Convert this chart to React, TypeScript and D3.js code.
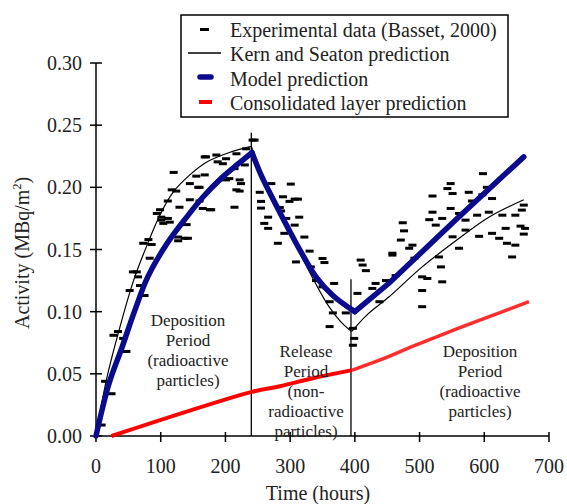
import React from "react";
import * as d3 from "d3";

// ---- Data ----
const expTime = [
  8.7, 14, 24, 27, 34, 42, 47, 52, 57, 65, 68, 63, 73, 75, 81, 83, 86, 94, 99, 101, 101, 104, 111, 111, 114, 117, 120, 124, 127, 127, 129, 137, 140, 142, 145, 145, 155, 158, 160, 160, 165, 168, 168, 170, 176, 178, 186, 188, 196, 201, 201, 206, 214, 214, 217, 217, 222, 222, 224, 230, 232, 242,
  245, 253, 255, 255, 260, 266, 266, 271, 281, 284, 286, 289, 291, 294, 299, 301, 307, 307, 309, 312, 314, 322, 330, 332, 340, 350, 350, 353, 361, 361, 366, 368, 386, 397, 399, 397,
  404, 409, 412, 417, 427, 432, 438, 448, 458, 458, 463, 471, 474, 476, 484, 489, 492, 504, 504, 504, 512, 515, 520, 520, 525, 530, 533, 535, 535, 543, 548, 548, 551, 551, 561, 561, 571, 571, 576, 581, 589, 592, 597, 598, 604, 607, 612, 612, 623, 628, 633, 635, 643, 648, 648, 656, 658, 661, 661, 663,
];
const expActivity = [
  0.0088, 0.044, 0.034, 0.081, 0.084, 0.0785, 0.068, 0.117, 0.132, 0.128, 0.121, 0.132, 0.155, 0.113, 0.158, 0.143, 0.154, 0.179, 0.182, 0.176, 0.1736, 0.171, 0.189, 0.175, 0.172, 0.198, 0.212, 0.197, 0.16, 0.157, 0.184, 0.159, 0.17, 0.159, 0.203, 0.19, 0.209, 0.2, 0.189, 0.2, 0.183, 0.21, 0.2245, 0.2245, 0.182, 0.182, 0.226, 0.2205, 0.219, 0.223, 0.206, 0.207, 0.184, 0.215, 0.198, 0.227, 0.206, 0.197, 0.203, 0.218, 0.231, 0.238,
  0.238, 0.196, 0.1887, 0.1833, 0.171, 0.176, 0.167, 0.203, 0.155, 0.1838, 0.181, 0.1924, 0.163, 0.175, 0.1887, 0.2026, 0.1696, 0.1905, 0.14, 0.1905, 0.176, 0.16, 0.1487, 0.136, 0.125, 0.1428, 0.12, 0.1395, 0.108, 0.088, 0.099, 0.1227, 0.099, 0.0866, 0.0785, 0.073,
  0.1147, 0.1415, 0.1375, 0.133, 0.1187, 0.1227, 0.108, 0.125, 0.147, 0.1455, 0.129, 0.1576, 0.1715, 0.165, 0.151, 0.1535, 0.143, 0.128, 0.117, 0.104, 0.1267, 0.174, 0.193, 0.18, 0.1696, 0.144, 0.136, 0.175, 0.124, 0.199, 0.203, 0.183, 0.195, 0.1602, 0.179, 0.151, 0.1736, 0.1656, 0.196, 0.189, 0.1776, 0.1606, 0.194, 0.211, 0.2, 0.18, 0.191, 0.163, 0.159, 0.1776, 0.167, 0.155, 0.144, 0.1776, 0.1535, 0.1688, 0.1817, 0.1857, 0.1624, 0.167,
];

// Kern and Seaton prediction (three phases)
const kernTime1 = [0, 16, 34, 58, 80, 99, 119, 145, 170, 206, 240];
const kernVal1 = [0, 0.045, 0.082, 0.125, 0.155, 0.178, 0.196, 0.21, 0.22, 0.228, 0.233];
const kernTime2 = [240, 260, 280, 300, 320, 340, 360, 378, 395];
const kernVal2 = [0.233, 0.205, 0.183, 0.163, 0.142, 0.122, 0.104, 0.092, 0.084];
const kernTime3 = [395, 420, 453, 504, 556, 607, 661];
const kernVal3 = [0.084, 0.098, 0.112, 0.136, 0.157, 0.176, 0.19];

// Model prediction
const modelTime1 = [0, 20, 40, 60, 80, 110, 140, 165, 195, 220, 241];
const modelVal1 = [0, 0.042, 0.071, 0.101, 0.128, 0.155, 0.176, 0.192, 0.208, 0.219, 0.228];
const modelTime2 = [241, 255, 273, 299, 320, 340, 366, 400];
const modelVal2 = [0.228, 0.21, 0.191, 0.165, 0.145, 0.128, 0.113, 0.1];
const modelTime3 = [400, 453, 556, 661];
const modelVal3 = [0.1, 0.123, 0.174, 0.2245];

// Consolidated layer prediction
const layerTime1 = [24, 241, 284, 335, 396];
const layerVal1 = [0, 0.0355, 0.04, 0.0465, 0.053];
const layerTime2 = [396, 438, 489, 540, 592, 669];
const layerVal2 = [0.053, 0.061, 0.072, 0.0826, 0.093, 0.108];

const xTicks = [0, 100, 200, 300, 400, 500, 600, 700];
const yTicks = [0, 0.05, 0.1, 0.15, 0.2, 0.25, 0.3];
const periodBounds = [240, 394];
const periodTops = [0.244, 0.126];

const legendLabels = [
  "Experimental data (Basset, 2000)",
  "Kern and Seaton prediction",
  "Model prediction",
  "Consolidated layer prediction",
];

const F = { fontFamily: "Liberation Serif" };

export default function App() {
  const x = d3.scaleLinear().domain([0, 700]).range([96, 549]);
  const y = d3.scaleLinear().domain([0, 0.3]).range([436, 63]);

  const mk = (ts: number[], vs: number[], curve: d3.CurveFactory = d3.curveCatmullRom.alpha(0.5)) =>
    d3
      .line<number>()
      .x((_, i) => x(ts[i]))
      .y((_, i) => y(vs[i]))
      .curve(curve)(ts) as string;

  const fmt = d3.format(".2f");

  return (
    <svg width={567} height={504} style={{ display: "block", position: "absolute", left: 0, top: 0 }}>
      <rect x={0} y={0} width={567} height={504} fill="#fff" />
      {/* axes */}
      <line x1={x(0)} x2={x(0)} y1={y(0)} y2={y(0.3)} stroke="#000" strokeWidth={1.5} />
      <line x1={x(0)} x2={x(700)} y1={y(0)} y2={y(0)} stroke="#000" strokeWidth={1.5} />
      {yTicks.map((t) => (
        <g key={"y" + t}>
          <line x1={x(0) - 6} x2={x(0) + 6} y1={y(t)} y2={y(t)} stroke="#000" strokeWidth={1.5} />
          <text x={x(0) - 14} y={y(t)} dy="0.35em" textAnchor="end" fontSize={20} fill="#222" style={F}>
            {fmt(t)}
          </text>
        </g>
      ))}
      {xTicks.map((t) => (
        <g key={"x" + t}>
          <line x1={x(t)} x2={x(t)} y1={y(0) - 4} y2={y(0) + 6} stroke="#000" strokeWidth={1.5} />
          <text x={x(t)} y={y(0) + 37} textAnchor="middle" fontSize={20} fill="#222" style={F}>
            {t}
          </text>
        </g>
      ))}
      <text x={318} y={500} textAnchor="middle" fontSize={20} fill="#222" style={F}>
        Time (hours)
      </text>
      <text transform={`translate(29,253) rotate(-90)`} textAnchor="middle" fontSize={20} fill="#222" style={F}>
        Activity (MBq/m<tspan dy={-8} fontSize={12}>2</tspan>
        <tspan dy={8}>)</tspan>
      </text>

      {/* period boundaries */}
      {periodBounds.map((b, i) => (
        <line key={"pb" + i} x1={x(b)} x2={x(b)} y1={y(0)} y2={y(periodTops[i])} stroke="#000" strokeWidth={1.3} />
      ))}

      {/* consolidated layer */}
      <path d={mk(layerTime1, layerVal1)} fill="none" stroke="#ff0000" strokeWidth={4} />
      <path d={mk(layerTime2, layerVal2)} fill="none" stroke="#ff2e2e" strokeWidth={3.5} />

      {/* experimental dashes */}
      {expTime.map((t, i) => (
        <rect key={"e" + i} x={x(t) - 4} y={y(expActivity[i]) - 1.5} width={8} height={3} fill="#000" />
      ))}

      {/* Kern and Seaton */}
      <path d={mk(kernTime1, kernVal1)} fill="none" stroke="#000" strokeWidth={1.2} />
      <path d={mk(kernTime2, kernVal2)} fill="none" stroke="#000" strokeWidth={1.2} />
      <path d={mk(kernTime3, kernVal3)} fill="none" stroke="#000" strokeWidth={1.2} />

      {/* Model */}
      <path d={mk(modelTime1, modelVal1)} fill="none" stroke="#0b0b8e" strokeWidth={5.5} strokeLinecap="round" />
      <path d={mk(modelTime2, modelVal2)} fill="none" stroke="#0b0b8e" strokeWidth={5.5} strokeLinecap="round" />
      <path d={mk(modelTime3, modelVal3, d3.curveLinear)} fill="none" stroke="#0b0b8e" strokeWidth={5.5} strokeLinecap="round" />

      {/* period labels */}
      {[
        { cx: 188, y0: 326, lines: ["Deposition", "Period", "(radioactive", "particles)"] },
        { cx: 306, y0: 357, lines: ["Release", "Period", "(non-", "radioactive", "particles)"] },
        { cx: 480, y0: 357, lines: ["Deposition", "Period", "(radioactive", "particles)"] },
      ].map((p, k) => (
        <text key={"pl" + k} textAnchor="middle" fontSize={17} fill="#222" style={F}>
          {p.lines.map((l, j) => (
            <tspan key={j} x={p.cx} y={p.y0 + j * 20}>
              {l}
            </tspan>
          ))}
        </text>
      ))}

      {/* legend */}
      <rect x={181} y={15} width={327} height={102} fill="#fff" stroke="#000" strokeWidth={1.5} />
      <rect x={200} y={28} width={9} height={3} fill="#000" />
      <line x1={188} x2={221} y1={53} y2={53} stroke="#000" strokeWidth={1.3} />
      <line x1={200} x2={211} y1={77} y2={77} stroke="#0b0b8e" strokeWidth={5.5} strokeLinecap="round" />
      <line x1={199} x2={212} y1={102} y2={102} stroke="#ff0000" strokeWidth={4} />
      {legendLabels.map((l, i) => (
        <text key={"lg" + i} x={230} y={30 + i * 24.3} dy="0.35em" fontSize={20} fill="#222" style={F}>
          {l}
        </text>
      ))}
    </svg>
  );
}
